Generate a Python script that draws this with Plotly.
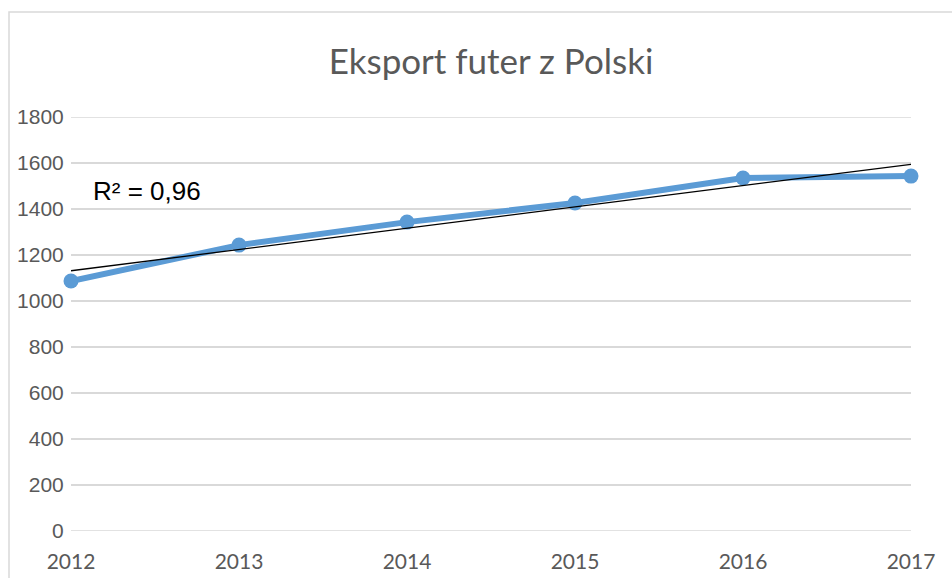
import numpy as np
import plotly.graph_objects as go

years = [2012, 2013, 2014, 2015, 2016, 2017]
export = [1087, 1243, 1343, 1426, 1535, 1543]
y_ticks = [0, 200, 400, 600, 800, 1000, 1200, 1400, 1600, 1800]
title = "Eksport futer z Polski"

x = np.array(years, dtype=float)
y = np.array(export, dtype=float)
coef = np.polyfit(x, y, 1)
fit = np.polyval(coef, x)
r2 = 1 - ((y - fit) ** 2).sum() / ((y - y.mean()) ** 2).sum()
r2_text = "R² = " + f"{r2:.2f}".replace(".", ",")

fig = go.Figure()
fig.add_trace(go.Scatter(
    x=years, y=export, mode="lines+markers",
    line=dict(color="#5B9BD5", width=6),
    marker=dict(color="#5B9BD5", size=15),
    cliponaxis=False, showlegend=False, hoverinfo="x+y",
))
fig.add_trace(go.Scatter(
    x=years, y=fit, mode="lines",
    line=dict(color="#000000", width=1.3),
    showlegend=False, hoverinfo="skip",
))

W, H = 952, 578
l, r, t, b = 71, 41, 117, 47
pw, ph = W - l - r, H - t - b

edge_grid = [dict(type="line", xref="paper", yref="y", x0=0, x1=1, y0=v, y1=v,
                  line=dict(color="#D9D9D9", width=1.5), layer="below")
             for v in (y_ticks[0], y_ticks[-1])]

fig.update_layout(
    width=W, height=H,
    margin=dict(l=l, r=r, t=t, b=b, autoexpand=False),
    paper_bgcolor="white", plot_bgcolor="white",
    title=dict(text=title, x=(l + pw / 2) / W, xanchor="center",
               y=1 - 62 / H, yanchor="middle",
               font=dict(family="Lato", size=35, color="#595959")),
    xaxis=dict(range=[2012, 2017], tickvals=years, ticktext=[str(v) for v in years],
               showgrid=False, zeroline=False, showline=False, automargin=False,
               ticks="outside", ticklen=0, ticklabelstandoff=12,
               tickfont=dict(family="Lato", size=21, color="#595959")),
    yaxis=dict(range=[0, 1800], tickvals=y_ticks, automargin=False,
               showgrid=True, gridcolor="#D9D9D9", gridwidth=1.5,
               zeroline=False, showline=False,
               ticks="outside", ticklen=0, ticklabelstandoff=2,
               tickfont=dict(family="Liberation Sans", size=21, color="#595959")),
    shapes=[dict(type="rect", xref="paper", yref="paper",
                 x0=(9 - l) / pw, x1=1.3, y0=-0.3, y1=1 + (t - 12) / ph,
                 line=dict(color="#D9D9D9", width=1.5), fillcolor="rgba(0,0,0,0)",
                 layer="below")] + edge_grid,
    annotations=[dict(text=r2_text, xref="paper", yref="paper",
                      x=(91 - l) / pw, y=1 - (191 - t) / ph,
                      xanchor="left", yanchor="middle", showarrow=False,
                      font=dict(family="Liberation Sans", size=26, color="#000000"))],
)

fig.write_html("out.html")
